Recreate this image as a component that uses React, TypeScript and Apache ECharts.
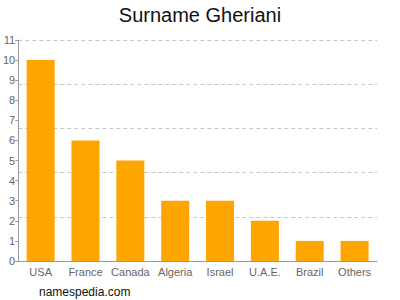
import React, { useEffect, useRef } from "react";
import * as echarts from "echarts";

const categories = ["USA", "France", "Canada", "Algeria", "Israel", "U.A.E.", "Brazil", "Others"];
const values = [10, 6, 5, 3, 3, 2, 1, 1];
const yMax = 11;

export default function App() {
  const ref = useRef<HTMLDivElement>(null);
  useEffect(() => {
    const chart = echarts.init(ref.current!, null, { renderer: "svg" });
    chart.setOption({
      animation: false,
      title: {
        text: "Surname Gheriani",
        left: "center",
        top: 0,
        textStyle: { fontFamily: "Liberation Sans, Arial", fontSize: 20, fontWeight: "normal", color: "#111" },
      },
      graphic: [
        {
          type: "text",
          left: 39,
          top: 286,
          style: { text: "namespedia.com", fontFamily: "Liberation Sans, Arial", fontSize: 12, fill: "#111" },
        },
      ],
      grid: { left: 17, right: 23, top: 40, bottom: 39 },
      xAxis: {
        type: "category",
        data: categories,
        axisLine: { lineStyle: { color: "#999" } },
        axisTick: { show: false },
        axisLabel: { color: "#666", fontSize: 11, fontFamily: "Liberation Sans, Arial", margin: 5, interval: 0 },
      },
      yAxis: [
        {
          type: "value",
          min: 0,
          max: yMax,
          interval: 1,
          axisLine: { show: true, lineStyle: { color: "#999" } },
          axisTick: { show: true, length: 3, lineStyle: { color: "#999" } },
          axisLabel: { color: "#666", fontSize: 11, fontFamily: "Liberation Sans, Arial", margin: 3 },
          splitLine: { show: false },
        },
        {
          type: "value",
          min: 0,
          max: yMax,
          interval: yMax / 5,
          position: "left",
          axisLine: { show: false },
          axisTick: { show: false },
          axisLabel: { show: false },
          splitLine: { show: true, lineStyle: { color: "#c8c8c8", type: [4, 3] } },
        },
      ],
      series: [
        {
          type: "bar",
          data: values,
          yAxisIndex: 0,
          barWidth: 28,
          itemStyle: { color: "#FFA500" },
        },
      ],
    });
    return () => chart.dispose();
  }, []);
  return <div ref={ref} style={{ width: 400, height: 300, position: "absolute", left: 0, top: 0 }} />;
}
